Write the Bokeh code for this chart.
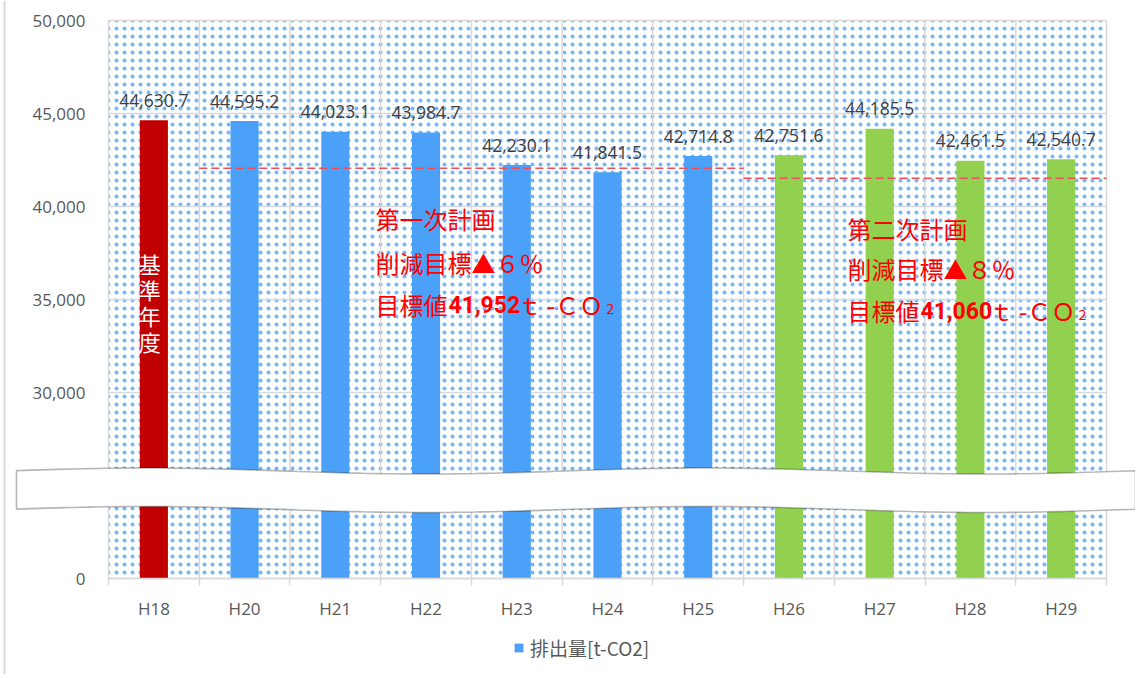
import numpy as np
from bokeh.plotting import figure
from bokeh.models import (Range1d, FixedTicker, ColumnDataSource, Label, Legend,
                          LegendItem, PolyAnnotation, Span)
from bokeh.core.properties import value
from bokeh.embed import file_html
from bokeh.resources import INLINE

# ---------------- data ----------------
categories = ["H18", "H20", "H21", "H22", "H23", "H24", "H25", "H26", "H27", "H28", "H29"]
emissions = [44630.7, 44595.2, 44023.1, 43984.7, 42230.1, 41841.5,
             42714.8, 42751.6, 44185.5, 42461.5, 42540.7]
series_name = "排出量[t-CO2]"
base_year_text = "基準年度"

y_ticks = [20000, 25000, 30000, 35000, 40000, 45000, 50000]
y_tick_labels = ["0", "", "30,000", "35,000", "40,000", "45,000", "50,000"]

plan_names = ["第一次計画", "第二次計画"]
plan_cuts = ["削減目標▲６％", "削減目標▲８％"]
plan_targets = ["41,952", "41,060"]
plan_first = ["H20", "H26"]
plan_last = ["H25", "H29"]
plan_line_levels = [42060, 41520]   # where the dashed target lines are drawn

# ---------------- styles / layout ----------------
RED, BLUE, GREEN = "#C00000", "#4BA1F7", "#92D050"
GRID = "#d9d9d9"
TXT = "#595959"
LBL = "#404040"
ANN = "#FF0000"

W, H = 1135, 674
FL, FR, FT, FB = 108, 1106, 20, 578      # plot-area box in pixels
n = len(categories)
y0, y1 = y_ticks[0], y_ticks[-1]
sx = (FR - FL) / n
sy = (y1 - y0) / (FB - FT)
x_range = Range1d(-FL / sx, n + (W - FR) / sx)
y_range = Range1d(y0 - (H - FB) * sy, y1 + FT * sy)

def px_to_x(px):
    return (px - FL) / sx

def py_to_y(py):
    return y1 - (py - FT) * sy

centers = [i + 0.5 for i in range(n)]
i26 = categories.index("H26")
bar_colors = [RED if i == 0 else (GREEN if i >= i26 else BLUE) for i in range(n)]

p = figure(width=W, height=H, x_range=x_range, y_range=y_range,
           output_backend="svg", toolbar_location=None, min_border=0)
p.outline_line_color = None
p.background_fill_color = "white"
p.border_fill_color = "white"
p.grid.visible = False

# dotted plot-area background
p.quad(left=0, right=n, bottom=y0, top=y1, fill_color="white", line_color=None,
       hatch_pattern="dot", hatch_color="#3F97F2", hatch_alpha=0.7, hatch_scale=8,
       hatch_weight=0.3, level="image")

# grid lines limited to the plot area
bounds_x = list(range(n + 1))
p.segment(x0=bounds_x, y0=[y0] * len(bounds_x), x1=bounds_x, y1=[y1] * len(bounds_x),
          line_color=GRID, line_width=1.5)
p.segment(x0=[0] * len(y_ticks), y0=y_ticks, x1=[n] * len(y_ticks), y1=y_ticks,
          line_color=GRID, line_width=1.5)

# chart-area border line at the far left
p.add_layout(Span(location=px_to_x(4), dimension="height", line_color=GRID, line_width=2))

# bars
src = ColumnDataSource(dict(x=centers, top=emissions, color=bar_colors,
                            label=[f"{v:,.1f}" for v in emissions]))
bars = p.vbar(x="x", top="top", bottom=y0, width=0.31, fill_color="color",
              line_color=None, source=src)

# value labels
p.text(x="x", y="top", text="label", source=src, text_align="center",
       text_baseline="middle", y_offset=-20, text_font=value("Open Sans"),
       text_font_size="17.5px", text_color=LBL)

# dashed target lines
sx0 = [categories.index(c) for c in plan_first]
sx1 = [categories.index(c) + 1 for c in plan_last]
p.segment(x0=sx0, y0=plan_line_levels, x1=sx1, y1=plan_line_levels,
          line_color="#EE4E58", line_dash="8 4", line_width=1.5)

# axes drawn at fixed locations
xa = p.xaxis[0]
xa.fixed_location = y0
xa.bounds = (0, n)
xa.ticker = FixedTicker(ticks=centers, minor_ticks=list(range(n + 1)))
xa.major_label_overrides = {c: lab for c, lab in zip(centers, categories)}
xa.major_tick_line_color = None
xa.major_tick_out = 7
xa.major_tick_in = 0
xa.minor_tick_line_color = GRID
xa.minor_tick_line_width = 1.5
xa.minor_tick_out = 7
xa.minor_tick_in = 0
xa.axis_line_color = GRID
xa.axis_line_width = 1.5
xa.major_label_standoff = 11
xa.major_label_text_font = "Open Sans"
xa.major_label_text_font_size = "17px"
xa.major_label_text_color = TXT

ya = p.yaxis[0]
ya.fixed_location = 0
ya.bounds = (y0, y1)
ya.ticker = FixedTicker(ticks=y_ticks)
ya.major_label_overrides = {t: lab for t, lab in zip(y_ticks, y_tick_labels)}
ya.axis_line_color = None
ya.major_tick_line_color = None
ya.minor_tick_line_color = None
ya.major_tick_out = 0
ya.major_tick_in = 0
ya.major_label_standoff = 23
ya.major_label_text_font = "Open Sans"
ya.major_label_text_font_size = "17px"
ya.major_label_text_color = TXT

# base-year text inside the red bar
p.add_layout(Label(x=centers[0], y=py_to_y(246), x_offset=-4, text="\n".join(base_year_text),
                   text_align="center", text_baseline="top", text_color="white",
                   text_font="Noto Sans CJK JP", text_font_size="22px", text_line_height=0.82))

# plan annotations
blocks = [(375, [218, 262, 304]), (847, [228, 268, 310])]
for k, (bx_px, rows) in enumerate(blocks):
    bx = px_to_x(bx_px)
    ys = [py_to_y(r) for r in rows]
    common = dict(text_baseline="middle", text_align="left", text_color=ANN)
    p.add_layout(Label(x=bx, y=ys[0], text=plan_names[k], text_font="Noto Sans CJK JP",
                       text_font_size="24px", **common))
    p.add_layout(Label(x=bx, y=ys[1], text=plan_cuts[k], text_font="Noto Sans CJK JP",
                       text_font_size="24px", **common))
    p.add_layout(Label(x=bx, y=ys[2], text="目標値", text_font="Noto Sans CJK JP",
                       text_font_size="24px", **common))
    p.add_layout(Label(x=bx, y=ys[2], x_offset=73, text=plan_targets[k], text_font="Roboto",
                       text_font_style="bold", text_font_size="23px", **common))
    p.add_layout(Label(x=bx, y=ys[2], x_offset=142, text="ｔ -ＣＯ", text_font="Noto Sans CJK JP",
                       text_font_size="24px", **common))
    p.add_layout(Label(x=bx, y=ys[2], x_offset=231, y_offset=-4, text="2",
                       text_font="Noto Sans CJK JP", text_font_size="14px", **common))

# legend below the plot area
legend = Legend(items=[LegendItem(label=series_name, renderers=[bars], index=1)],
                location=(513, H - 661), orientation="horizontal",
                background_fill_alpha=0, border_line_color=None, padding=0, margin=0,
                glyph_width=11, glyph_height=11, label_standoff=6,
                label_text_font="Noto Sans CJK JP", label_text_font_size="19px",
                label_text_color=TXT)
p.add_layout(legend, "center")

# axis break band (canvas coordinates)
xs_top = np.linspace(16, W, 140)
y_top = 470.5 - 3.0 * np.cos(2 * np.pi * (xs_top - 145) / 560)
xs = np.concatenate([xs_top, xs_top[::-1]])
ys = np.concatenate([y_top, (y_top + 38.5)[::-1]])
p.add_layout(PolyAnnotation(xs=list(xs), ys=list(ys), xs_units="canvas", ys_units="canvas",
                            fill_color="white", fill_alpha=1, line_color="#111111",
                            line_width=1.6, level="overlay"))

open("out.html", "w").write(file_html(p, INLINE))
